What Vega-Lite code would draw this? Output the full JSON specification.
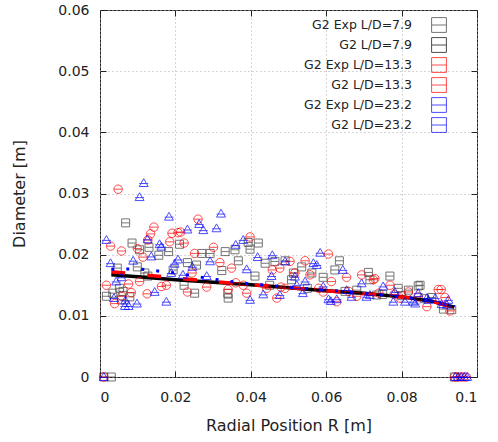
{
  "$schema": "https://vega.github.io/schema/vega-lite/v6.json",
  "autosize": "none",
  "width": 377,
  "height": 367,
  "padding": {"left": 100, "top": 10, "right": 21, "bottom": 65},
  "background": "white",
  "config": {
    "font": "DejaVu Sans",
    "view": {"stroke": "#222222", "strokeWidth": 1},
    "axis": {"labelFont": "DejaVu Sans", "titleFont": "DejaVu Sans", "labelFontSize": 14, "titleFontSize": 16, "titleFontWeight": "normal", "labelColor": "#222222", "titleColor": "#222222", "tickColor": "#222222", "domain": false, "tickSize": -6, "gridColor": "#aaaaaa", "gridDash": [1, 3], "gridWidth": 1}
  },
  "datasets": {
    "exp": [
      {"series": "G2 Exp L/D=7.9", "r": 0.001, "d": 0}, {"series": "G2 Exp L/D=7.9", "r": 0.003, "d": 0}, {"series": "G2 Exp L/D=7.9", "r": 0.094, "d": 0},
      {"series": "G2 Exp L/D=7.9", "r": 0.0017, "d": 0.0132}, {"series": "G2 Exp L/D=7.9", "r": 0.0034, "d": 0.0137}, {"series": "G2 Exp L/D=7.9", "r": 0.0046, "d": 0.0178}, {"series": "G2 Exp L/D=7.9", "r": 0.0052, "d": 0.0145}, {"series": "G2 Exp L/D=7.9", "r": 0.0057, "d": 0.0126}, {"series": "G2 Exp L/D=7.9", "r": 0.0061, "d": 0.014}, {"series": "G2 Exp L/D=7.9", "r": 0.0068, "d": 0.0252}, {"series": "G2 Exp L/D=7.9", "r": 0.0079, "d": 0.0131}, {"series": "G2 Exp L/D=7.9", "r": 0.0085, "d": 0.0219}, {"series": "G2 Exp L/D=7.9", "r": 0.0099, "d": 0.018}, {"series": "G2 Exp L/D=7.9", "r": 0.0105, "d": 0.0208}, {"series": "G2 Exp L/D=7.9", "r": 0.0119, "d": 0.017}, {"series": "G2 Exp L/D=7.9", "r": 0.0127, "d": 0.0165}, {"series": "G2 Exp L/D=7.9", "r": 0.013, "d": 0.0212}, {"series": "G2 Exp L/D=7.9", "r": 0.0156, "d": 0.0199}, {"series": "G2 Exp L/D=7.9", "r": 0.0182, "d": 0.0205}, {"series": "G2 Exp L/D=7.9", "r": 0.0194, "d": 0.0175}, {"series": "G2 Exp L/D=7.9", "r": 0.0211, "d": 0.0217}, {"series": "G2 Exp L/D=7.9", "r": 0.0223, "d": 0.015}, {"series": "G2 Exp L/D=7.9", "r": 0.0232, "d": 0.0187}, {"series": "G2 Exp L/D=7.9", "r": 0.0251, "d": 0.0137}, {"series": "G2 Exp L/D=7.9", "r": 0.0256, "d": 0.0183}, {"series": "G2 Exp L/D=7.9", "r": 0.027, "d": 0.0202}, {"series": "G2 Exp L/D=7.9", "r": 0.0292, "d": 0.0202}, {"series": "G2 Exp L/D=7.9", "r": 0.0323, "d": 0.0174}, {"series": "G2 Exp L/D=7.9", "r": 0.0332, "d": 0.0205}, {"series": "G2 Exp L/D=7.9", "r": 0.0339, "d": 0.0137}, {"series": "G2 Exp L/D=7.9", "r": 0.034, "d": 0.0129}, {"series": "G2 Exp L/D=7.9", "r": 0.0358, "d": 0.0208}, {"series": "G2 Exp L/D=7.9", "r": 0.0367, "d": 0.019}, {"series": "G2 Exp L/D=7.9", "r": 0.0393, "d": 0.022}, {"series": "G2 Exp L/D=7.9", "r": 0.0398, "d": 0.0209}, {"series": "G2 Exp L/D=7.9", "r": 0.0411, "d": 0.0165}, {"series": "G2 Exp L/D=7.9", "r": 0.042, "d": 0.0219}, {"series": "G2 Exp L/D=7.9", "r": 0.0438, "d": 0.0186}, {"series": "G2 Exp L/D=7.9", "r": 0.045, "d": 0.015}, {"series": "G2 Exp L/D=7.9", "r": 0.0464, "d": 0.0189}, {"series": "G2 Exp L/D=7.9", "r": 0.0491, "d": 0.019}, {"series": "G2 Exp L/D=7.9", "r": 0.0508, "d": 0.0159}, {"series": "G2 Exp L/D=7.9", "r": 0.0513, "d": 0.017}, {"series": "G2 Exp L/D=7.9", "r": 0.0535, "d": 0.018}, {"series": "G2 Exp L/D=7.9", "r": 0.055, "d": 0.0145}, {"series": "G2 Exp L/D=7.9", "r": 0.0562, "d": 0.017}, {"series": "G2 Exp L/D=7.9", "r": 0.0592, "d": 0.0163}, {"series": "G2 Exp L/D=7.9", "r": 0.0623, "d": 0.0175}, {"series": "G2 Exp L/D=7.9", "r": 0.0635, "d": 0.019}, {"series": "G2 Exp L/D=7.9", "r": 0.065, "d": 0.014}, {"series": "G2 Exp L/D=7.9", "r": 0.0681, "d": 0.0142}, {"series": "G2 Exp L/D=7.9", "r": 0.0712, "d": 0.0171}, {"series": "G2 Exp L/D=7.9", "r": 0.0716, "d": 0.0159}, {"series": "G2 Exp L/D=7.9", "r": 0.0734, "d": 0.0134}, {"series": "G2 Exp L/D=7.9", "r": 0.075, "d": 0.0135}, {"series": "G2 Exp L/D=7.9", "r": 0.0769, "d": 0.0165}, {"series": "G2 Exp L/D=7.9", "r": 0.0791, "d": 0.0145}, {"series": "G2 Exp L/D=7.9", "r": 0.08, "d": 0.0133}, {"series": "G2 Exp L/D=7.9", "r": 0.0818, "d": 0.0142}, {"series": "G2 Exp L/D=7.9", "r": 0.0844, "d": 0.0149}, {"series": "G2 Exp L/D=7.9", "r": 0.0849, "d": 0.015}, {"series": "G2 Exp L/D=7.9", "r": 0.086, "d": 0.0128}, {"series": "G2 Exp L/D=7.9", "r": 0.088, "d": 0.013}, {"series": "G2 Exp L/D=7.9", "r": 0.0911, "d": 0.0111}, {"series": "G2 Exp L/D=7.9", "r": 0.0933, "d": 0.011},
      {"series": "G2 Exp L/D=13.3", "r": 0.001, "d": 0}, {"series": "G2 Exp L/D=13.3", "r": 0.094, "d": 0}, {"series": "G2 Exp L/D=13.3", "r": 0.0948, "d": 0}, {"series": "G2 Exp L/D=13.3", "r": 0.0956, "d": 0}, {"series": "G2 Exp L/D=13.3", "r": 0.0964, "d": 0}, {"series": "G2 Exp L/D=13.3", "r": 0.0972, "d": 0},
      {"series": "G2 Exp L/D=13.3", "r": 0.0017, "d": 0.015}, {"series": "G2 Exp L/D=13.3", "r": 0.0028, "d": 0.0214}, {"series": "G2 Exp L/D=13.3", "r": 0.0039, "d": 0.012}, {"series": "G2 Exp L/D=13.3", "r": 0.0048, "d": 0.0307}, {"series": "G2 Exp L/D=13.3", "r": 0.0057, "d": 0.0206}, {"series": "G2 Exp L/D=13.3", "r": 0.0058, "d": 0.0132}, {"series": "G2 Exp L/D=13.3", "r": 0.0076, "d": 0.0152}, {"series": "G2 Exp L/D=13.3", "r": 0.0083, "d": 0.0138}, {"series": "G2 Exp L/D=13.3", "r": 0.0099, "d": 0.021}, {"series": "G2 Exp L/D=13.3", "r": 0.0105, "d": 0.0156}, {"series": "G2 Exp L/D=13.3", "r": 0.0114, "d": 0.0196}, {"series": "G2 Exp L/D=13.3", "r": 0.0125, "d": 0.0136}, {"series": "G2 Exp L/D=13.3", "r": 0.0127, "d": 0.0224}, {"series": "G2 Exp L/D=13.3", "r": 0.0134, "d": 0.0234}, {"series": "G2 Exp L/D=13.3", "r": 0.0143, "d": 0.0245}, {"series": "G2 Exp L/D=13.3", "r": 0.0163, "d": 0.0148}, {"series": "G2 Exp L/D=13.3", "r": 0.0176, "d": 0.015}, {"series": "G2 Exp L/D=13.3", "r": 0.0185, "d": 0.0221}, {"series": "G2 Exp L/D=13.3", "r": 0.0191, "d": 0.0235}, {"series": "G2 Exp L/D=13.3", "r": 0.0207, "d": 0.0236}, {"series": "G2 Exp L/D=13.3", "r": 0.0214, "d": 0.0237}, {"series": "G2 Exp L/D=13.3", "r": 0.0223, "d": 0.0219}, {"series": "G2 Exp L/D=13.3", "r": 0.0232, "d": 0.0139}, {"series": "G2 Exp L/D=13.3", "r": 0.0244, "d": 0.017}, {"series": "G2 Exp L/D=13.3", "r": 0.0251, "d": 0.0202}, {"series": "G2 Exp L/D=13.3", "r": 0.026, "d": 0.0258}, {"series": "G2 Exp L/D=13.3", "r": 0.0283, "d": 0.0147}, {"series": "G2 Exp L/D=13.3", "r": 0.0301, "d": 0.0212}, {"series": "G2 Exp L/D=13.3", "r": 0.0318, "d": 0.0187}, {"series": "G2 Exp L/D=13.3", "r": 0.034, "d": 0.0143}, {"series": "G2 Exp L/D=13.3", "r": 0.0349, "d": 0.0178}, {"series": "G2 Exp L/D=13.3", "r": 0.036, "d": 0.0154}, {"series": "G2 Exp L/D=13.3", "r": 0.038, "d": 0.015}, {"series": "G2 Exp L/D=13.3", "r": 0.0389, "d": 0.0137}, {"series": "G2 Exp L/D=13.3", "r": 0.0398, "d": 0.0229}, {"series": "G2 Exp L/D=13.3", "r": 0.0442, "d": 0.0145}, {"series": "G2 Exp L/D=13.3", "r": 0.0457, "d": 0.0175}, {"series": "G2 Exp L/D=13.3", "r": 0.0469, "d": 0.0129}, {"series": "G2 Exp L/D=13.3", "r": 0.0477, "d": 0.0178}, {"series": "G2 Exp L/D=13.3", "r": 0.048, "d": 0.0147}, {"series": "G2 Exp L/D=13.3", "r": 0.0491, "d": 0.0145}, {"series": "G2 Exp L/D=13.3", "r": 0.0504, "d": 0.0189}, {"series": "G2 Exp L/D=13.3", "r": 0.0517, "d": 0.017}, {"series": "G2 Exp L/D=13.3", "r": 0.0544, "d": 0.019}, {"series": "G2 Exp L/D=13.3", "r": 0.0557, "d": 0.0167}, {"series": "G2 Exp L/D=13.3", "r": 0.058, "d": 0.0145}, {"series": "G2 Exp L/D=13.3", "r": 0.0592, "d": 0.0139}, {"series": "G2 Exp L/D=13.3", "r": 0.0606, "d": 0.0201}, {"series": "G2 Exp L/D=13.3", "r": 0.0614, "d": 0.0156}, {"series": "G2 Exp L/D=13.3", "r": 0.0628, "d": 0.0123}, {"series": "G2 Exp L/D=13.3", "r": 0.0654, "d": 0.0163}, {"series": "G2 Exp L/D=13.3", "r": 0.066, "d": 0.014}, {"series": "G2 Exp L/D=13.3", "r": 0.0681, "d": 0.0132}, {"series": "G2 Exp L/D=13.3", "r": 0.0694, "d": 0.0167}, {"series": "G2 Exp L/D=13.3", "r": 0.0725, "d": 0.0159}, {"series": "G2 Exp L/D=13.3", "r": 0.0729, "d": 0.0161}, {"series": "G2 Exp L/D=13.3", "r": 0.074, "d": 0.0137}, {"series": "G2 Exp L/D=13.3", "r": 0.0769, "d": 0.015}, {"series": "G2 Exp L/D=13.3", "r": 0.078, "d": 0.0135}, {"series": "G2 Exp L/D=13.3", "r": 0.0796, "d": 0.0129}, {"series": "G2 Exp L/D=13.3", "r": 0.0818, "d": 0.0139}, {"series": "G2 Exp L/D=13.3", "r": 0.0844, "d": 0.0131}, {"series": "G2 Exp L/D=13.3", "r": 0.0867, "d": 0.0115}, {"series": "G2 Exp L/D=13.3", "r": 0.0897, "d": 0.0143}, {"series": "G2 Exp L/D=13.3", "r": 0.0905, "d": 0.0143}, {"series": "G2 Exp L/D=13.3", "r": 0.0915, "d": 0.013}, {"series": "G2 Exp L/D=13.3", "r": 0.0928, "d": 0.0108},
      {"series": "G2 Exp L/D=23.2", "r": 0.001, "d": 0}, {"series": "G2 Exp L/D=23.2", "r": 0.0942, "d": 0}, {"series": "G2 Exp L/D=23.2", "r": 0.095, "d": 0}, {"series": "G2 Exp L/D=23.2", "r": 0.0958, "d": 0}, {"series": "G2 Exp L/D=23.2", "r": 0.0966, "d": 0}, {"series": "G2 Exp L/D=23.2", "r": 0.0974, "d": 0},
      {"series": "G2 Exp L/D=23.2", "r": 0.0017, "d": 0.0224}, {"series": "G2 Exp L/D=23.2", "r": 0.0028, "d": 0.0186}, {"series": "G2 Exp L/D=23.2", "r": 0.0037, "d": 0.0129}, {"series": "G2 Exp L/D=23.2", "r": 0.0043, "d": 0.0156}, {"series": "G2 Exp L/D=23.2", "r": 0.0057, "d": 0.0163}, {"series": "G2 Exp L/D=23.2", "r": 0.0066, "d": 0.0116}, {"series": "G2 Exp L/D=23.2", "r": 0.0067, "d": 0.0125}, {"series": "G2 Exp L/D=23.2", "r": 0.0076, "d": 0.0116}, {"series": "G2 Exp L/D=23.2", "r": 0.0088, "d": 0.019}, {"series": "G2 Exp L/D=23.2", "r": 0.0098, "d": 0.012}, {"series": "G2 Exp L/D=23.2", "r": 0.0105, "d": 0.0294}, {"series": "G2 Exp L/D=23.2", "r": 0.0116, "d": 0.0317}, {"series": "G2 Exp L/D=23.2", "r": 0.0126, "d": 0.0225}, {"series": "G2 Exp L/D=23.2", "r": 0.0136, "d": 0.0197}, {"series": "G2 Exp L/D=23.2", "r": 0.0145, "d": 0.0139}, {"series": "G2 Exp L/D=23.2", "r": 0.0158, "d": 0.0217}, {"series": "G2 Exp L/D=23.2", "r": 0.0163, "d": 0.0213}, {"series": "G2 Exp L/D=23.2", "r": 0.0176, "d": 0.0123}, {"series": "G2 Exp L/D=23.2", "r": 0.0183, "d": 0.0262}, {"series": "G2 Exp L/D=23.2", "r": 0.0189, "d": 0.017}, {"series": "G2 Exp L/D=23.2", "r": 0.0198, "d": 0.0185}, {"series": "G2 Exp L/D=23.2", "r": 0.0207, "d": 0.0192}, {"series": "G2 Exp L/D=23.2", "r": 0.022, "d": 0.0167}, {"series": "G2 Exp L/D=23.2", "r": 0.0232, "d": 0.0241}, {"series": "G2 Exp L/D=23.2", "r": 0.0245, "d": 0.018}, {"series": "G2 Exp L/D=23.2", "r": 0.0263, "d": 0.025}, {"series": "G2 Exp L/D=23.2", "r": 0.0274, "d": 0.024}, {"series": "G2 Exp L/D=23.2", "r": 0.0283, "d": 0.0165}, {"series": "G2 Exp L/D=23.2", "r": 0.0292, "d": 0.0189}, {"series": "G2 Exp L/D=23.2", "r": 0.0309, "d": 0.0243}, {"series": "G2 Exp L/D=23.2", "r": 0.0321, "d": 0.0267}, {"series": "G2 Exp L/D=23.2", "r": 0.036, "d": 0.0216}, {"series": "G2 Exp L/D=23.2", "r": 0.038, "d": 0.0224}, {"series": "G2 Exp L/D=23.2", "r": 0.0389, "d": 0.0176}, {"series": "G2 Exp L/D=23.2", "r": 0.0398, "d": 0.0126}, {"series": "G2 Exp L/D=23.2", "r": 0.0418, "d": 0.0196}, {"series": "G2 Exp L/D=23.2", "r": 0.0433, "d": 0.0135}, {"series": "G2 Exp L/D=23.2", "r": 0.0455, "d": 0.0165}, {"series": "G2 Exp L/D=23.2", "r": 0.0457, "d": 0.0199}, {"series": "G2 Exp L/D=23.2", "r": 0.0477, "d": 0.0134}, {"series": "G2 Exp L/D=23.2", "r": 0.0491, "d": 0.0189}, {"series": "G2 Exp L/D=23.2", "r": 0.0517, "d": 0.0164}, {"series": "G2 Exp L/D=23.2", "r": 0.0522, "d": 0.015}, {"series": "G2 Exp L/D=23.2", "r": 0.0538, "d": 0.0137}, {"series": "G2 Exp L/D=23.2", "r": 0.0544, "d": 0.0156}, {"series": "G2 Exp L/D=23.2", "r": 0.0566, "d": 0.0186}, {"series": "G2 Exp L/D=23.2", "r": 0.0575, "d": 0.0183}, {"series": "G2 Exp L/D=23.2", "r": 0.0584, "d": 0.0203}, {"series": "G2 Exp L/D=23.2", "r": 0.0592, "d": 0.0148}, {"series": "G2 Exp L/D=23.2", "r": 0.0606, "d": 0.0127}, {"series": "G2 Exp L/D=23.2", "r": 0.0612, "d": 0.0124}, {"series": "G2 Exp L/D=23.2", "r": 0.0628, "d": 0.0127}, {"series": "G2 Exp L/D=23.2", "r": 0.0644, "d": 0.0175}, {"series": "G2 Exp L/D=23.2", "r": 0.0654, "d": 0.0142}, {"series": "G2 Exp L/D=23.2", "r": 0.0667, "d": 0.0131}, {"series": "G2 Exp L/D=23.2", "r": 0.0694, "d": 0.0153}, {"series": "G2 Exp L/D=23.2", "r": 0.0707, "d": 0.0131}, {"series": "G2 Exp L/D=23.2", "r": 0.0716, "d": 0.0134}, {"series": "G2 Exp L/D=23.2", "r": 0.0751, "d": 0.0148}, {"series": "G2 Exp L/D=23.2", "r": 0.0778, "d": 0.0123}, {"series": "G2 Exp L/D=23.2", "r": 0.0782, "d": 0.0139}, {"series": "G2 Exp L/D=23.2", "r": 0.0809, "d": 0.0123}, {"series": "G2 Exp L/D=23.2", "r": 0.0831, "d": 0.0123}, {"series": "G2 Exp L/D=23.2", "r": 0.0836, "d": 0.012}, {"series": "G2 Exp L/D=23.2", "r": 0.0844, "d": 0.0137}, {"series": "G2 Exp L/D=23.2", "r": 0.0867, "d": 0.0129}, {"series": "G2 Exp L/D=23.2", "r": 0.0871, "d": 0.0126}, {"series": "G2 Exp L/D=23.2", "r": 0.0889, "d": 0.0129}, {"series": "G2 Exp L/D=23.2", "r": 0.0906, "d": 0.0119}, {"series": "G2 Exp L/D=23.2", "r": 0.092, "d": 0.0118}, {"series": "G2 Exp L/D=23.2", "r": 0.0924, "d": 0.0126}
    ],
    "model": [
      {"series": "G2 L/D=7.9", "r": 0.003, "d": 0.0167}, {"series": "G2 L/D=7.9", "r": 0.01, "d": 0.0164}, {"series": "G2 L/D=7.9", "r": 0.02, "d": 0.0159}, {"series": "G2 L/D=7.9", "r": 0.03, "d": 0.0155}, {"series": "G2 L/D=7.9", "r": 0.04, "d": 0.0151}, {"series": "G2 L/D=7.9", "r": 0.05, "d": 0.0146}, {"series": "G2 L/D=7.9", "r": 0.06, "d": 0.0141}, {"series": "G2 L/D=7.9", "r": 0.07, "d": 0.0137}, {"series": "G2 L/D=7.9", "r": 0.08, "d": 0.0131}, {"series": "G2 L/D=7.9", "r": 0.088, "d": 0.0124}, {"series": "G2 L/D=7.9", "r": 0.094, "d": 0.0114},
      {"series": "G2 L/D=13.3", "r": 0.003, "d": 0.0172}, {"series": "G2 L/D=13.3", "r": 0.01, "d": 0.0168}, {"series": "G2 L/D=13.3", "r": 0.02, "d": 0.0162}, {"series": "G2 L/D=13.3", "r": 0.03, "d": 0.0156}, {"series": "G2 L/D=13.3", "r": 0.04, "d": 0.0151}, {"series": "G2 L/D=13.3", "r": 0.05, "d": 0.0146}, {"series": "G2 L/D=13.3", "r": 0.06, "d": 0.0141}, {"series": "G2 L/D=13.3", "r": 0.07, "d": 0.0136}, {"series": "G2 L/D=13.3", "r": 0.08, "d": 0.0131}, {"series": "G2 L/D=13.3", "r": 0.088, "d": 0.0124}, {"series": "G2 L/D=13.3", "r": 0.094, "d": 0.0113},
      {"series": "G2 L/D=23.2", "r": 0.003, "d": 0.0176}, {"series": "G2 L/D=23.2", "r": 0.01, "d": 0.0177}, {"series": "G2 L/D=23.2", "r": 0.02, "d": 0.017}, {"series": "G2 L/D=23.2", "r": 0.03, "d": 0.016}, {"series": "G2 L/D=23.2", "r": 0.04, "d": 0.0152}, {"series": "G2 L/D=23.2", "r": 0.05, "d": 0.0147}, {"series": "G2 L/D=23.2", "r": 0.06, "d": 0.0142}, {"series": "G2 L/D=23.2", "r": 0.07, "d": 0.0137}, {"series": "G2 L/D=23.2", "r": 0.08, "d": 0.0131}, {"series": "G2 L/D=23.2", "r": 0.088, "d": 0.0125}, {"series": "G2 L/D=23.2", "r": 0.094, "d": 0.0115}
    ]
  },
  "layer": [
    {
      "data": {"name": "exp"},
      "transform": [{"filter": "datum.series === 'G2 Exp L/D=7.9'"}],
      "mark": {"type": "point", "filled": false, "strokeWidth": 1, "size": 64, "shape": "M-1,-1H1V1H-1ZM-1,0H1"},
      "encoding": {
        "x": {"field": "r", "type": "quantitative", "scale": {"domain": [0, 0.1], "nice": false, "zero": false}, "axis": {"orient": "bottom", "title": "Radial Position R [m]", "values": [0, 0.02, 0.04, 0.06, 0.08, 0.1], "format": "~g", "grid": true, "labelPadding": 19, "titlePadding": 13}},
        "y": {"field": "d", "type": "quantitative", "scale": {"domain": [0, 0.06], "nice": false, "zero": false}, "axis": {"orient": "left", "title": "Diameter [m]", "values": [0, 0.01, 0.02, 0.03, 0.04, 0.05, 0.06], "format": "~g", "grid": true, "labelPadding": 17, "titlePadding": 30}},
        "color": {
          "field": "series", "type": "nominal",
          "scale": {"domain": ["G2 Exp L/D=7.9", "G2 L/D=7.9", "G2 Exp L/D=13.3", "G2 L/D=13.3", "G2 Exp L/D=23.2", "G2 L/D=23.2"], "range": ["#3a3a3a", "#000000", "#ff0000", "#ff0000", "#0000ff", "#0000ff"]},
          "legend": {
            "orient": "none", "legendX": 331, "legendY": 7, "title": null, "padding": 0,
            "labelAlign": "right", "labelOffset": -35, "labelFontSize": 12.5, "labelFont": "DejaVu Sans", "labelColor": "#222222", "labelLimit": 300,
            "symbolSize": 219, "rowPadding": 0, "symbolStrokeWidth": 1,
            "encode": {"symbols": {
              "fill": {"value": "transparent"},
              "opacity": {"value": 1},
              "size": {"value": 1764},
              "strokeWidth": {"value": {"expr": "indexof(['G2 Exp L/D=7.9','G2 Exp L/D=13.3','G2 Exp L/D=23.2'], datum.value) >= 0 ? 1 : (datum.value === 'G2 L/D=23.2' ? 3 : 4)"}},
              "shape": {"value": {"expr": "datum.value === 'G2 Exp L/D=7.9' ? 'M-1,0H-0.19M0.19,0H1M-1,-0.15V0.15M1,-0.15V0.15M-0.19,-0.19H0.19V0.19H-0.19ZM-0.19,0H0.19' : datum.value === 'G2 L/D=7.9' ? 'M-1,0H1' : datum.value === 'G2 Exp L/D=13.3' ? 'M-1,0H-0.2M0.2,0H1M-1,-0.15V0.15M1,-0.15V0.15M-0.2,0A0.2,0.2,0,1,1,0.2,0A0.2,0.2,0,1,1,-0.2,0ZM-0.2,0H0.2' : datum.value === 'G2 L/D=13.3' ? 'M-1,0H-0.3M0.86,0H0.93' : datum.value === 'G2 Exp L/D=23.2' ? 'M-1,0H1M-1,-0.15V0.15M1,-0.15V0.15M0,-0.2L0.21,0.16H-0.21Z' : 'M-1,0H-0.87M-0.25,0H-0.12M0.46,0H0.59'"}}
            }}
          }
        }
      }
    },
    {
      "data": {"name": "model"},
      "transform": [{"filter": "datum.series === 'G2 L/D=7.9'"}],
      "mark": {"type": "line", "strokeWidth": 3.5},
      "encoding": {
        "x": {"field": "r", "type": "quantitative", "scale": {"domain": [0, 0.1], "nice": false, "zero": false}, "axis": {"orient": "top", "title": null, "labels": false, "grid": false, "values": [0, 0.02, 0.04, 0.06, 0.08, 0.1]}},
        "y": {"field": "d", "type": "quantitative", "scale": {"domain": [0, 0.06], "nice": false, "zero": false}, "axis": {"orient": "right", "title": null, "labels": false, "grid": false, "values": [0, 0.01, 0.02, 0.03, 0.04, 0.05, 0.06]}},
        "color": {"field": "series", "type": "nominal", "legend": null}
      }
    },
    {
      "data": {"name": "exp"},
      "transform": [{"filter": "datum.series === 'G2 Exp L/D=13.3'"}],
      "mark": {"type": "point", "filled": false, "strokeWidth": 1, "size": 72, "shape": "M-1,0A1,1,0,1,1,1,0A1,1,0,1,1,-1,0ZM-1,0H1"},
      "encoding": {
        "x": {"field": "r", "type": "quantitative", "axis": null},
        "y": {"field": "d", "type": "quantitative", "axis": null},
        "color": {"field": "series", "type": "nominal", "legend": null}
      }
    },
    {
      "data": {"name": "model"},
      "transform": [{"filter": "datum.series === 'G2 L/D=13.3'"}],
      "mark": {"type": "line", "strokeWidth": 3.5, "strokeDash": [14, 22]},
      "encoding": {
        "x": {"field": "r", "type": "quantitative", "axis": null},
        "y": {"field": "d", "type": "quantitative", "axis": null},
        "color": {"field": "series", "type": "nominal", "legend": null}
      }
    },
    {
      "data": {"name": "exp"},
      "transform": [{"filter": "datum.series === 'G2 Exp L/D=23.2'"}],
      "mark": {"type": "point", "filled": false, "strokeWidth": 1, "size": 72, "shape": "M0,-1.05L1.05,0.8H-1.05ZM-1.05,0.1H1.05"},
      "encoding": {
        "x": {"field": "r", "type": "quantitative", "axis": null},
        "y": {"field": "d", "type": "quantitative", "axis": null},
        "color": {"field": "series", "type": "nominal", "legend": null}
      }
    },
    {
      "data": {"name": "model"},
      "transform": [{"filter": "datum.series === 'G2 L/D=23.2'"}],
      "mark": {"type": "line", "strokeWidth": 3, "strokeDash": [3, 12]},
      "encoding": {
        "x": {"field": "r", "type": "quantitative", "axis": null},
        "y": {"field": "d", "type": "quantitative", "axis": null},
        "color": {"field": "series", "type": "nominal", "legend": null}
      }
    }
  ]
}
